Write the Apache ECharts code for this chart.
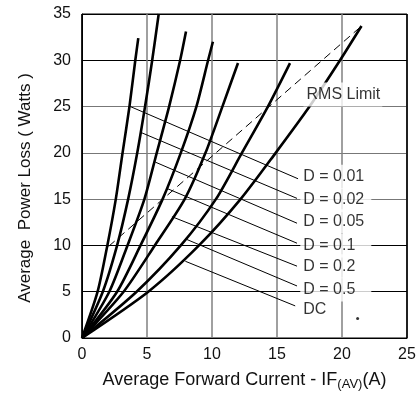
<!DOCTYPE html>
<html><head><meta charset="utf-8">
<script src="https://cdn.jsdelivr.net/npm/echarts@6/dist/echarts.min.js"></script>
<style>html,body{margin:0;padding:0;background:#fff}#c{width:419px;height:396px}</style>
</head><body><div id="c"></div>
<script>
// ---- data ----
const curveNames = ['D = 0.01', 'D = 0.02', 'D = 0.05', 'D = 0.1', 'D = 0.2', 'D = 0.5', 'DC'];
const curveD001 = [[0,0],[1.2,5],[1.95,10],[2.6,15],[3.12,20],[3.65,25],[4.1,30],[4.33,32.4]];
const curveD002 = [[0,0],[1.6,5],[2.7,10],[3.55,15],[4.25,20],[4.85,25],[5.4,30],[5.9,35]];
const curveD005 = [[0,0],[2.1,5],[3.5,10],[4.8,15],[5.75,20],[6.7,25],[7.55,30],[8.0,33.1]];
const curveD01  = [[0,0],[2.7,5],[4.5,10],[6.2,15],[7.6,20],[8.8,25],[9.7,30],[10.07,32]];
const curveD02  = [[0,0],[3.2,5],[5.6,10],[7.9,15],[9.5,20],[10.8,25],[12.0,29.7]];
const curveD05  = [[0,0],[4.2,5],[7.6,10],[10.3,15],[12.3,20],[14.3,25],[16.0,29.7]];
const curveDC   = [[0,0],[5.1,5],[9.0,10],[12.2,15],[14.9,20],[17.5,25],[19.85,30],[21.5,33.7]];
const curves = [curveD001, curveD002, curveD005, curveD01, curveD02, curveD05, curveDC];

const rmsLimit = [[2.05,9.9],[21.5,33.7]];
const rmsLabel = [[17.0, 26.3, 'RMS Limit']];

const leaderStart = [[3.72,25.0],[4.54,22.2],[5.64,19.0],[6.54,16.15],[6.92,13.1],[7.95,10.71],[7.95,8.29]];
const leaderEnd   = [[16.62,17.2],[16.54,15.08],[16.54,12.4],[16.54,10.24],[16.54,7.76],[16.54,5.62],[16.4,3.47]];
const labelX = 16.6;
const labelY = [17.43, 14.9, 12.6, 10.0, 7.75, 5.25, 3.1];
const strayDot = [[21.2, 2.1]];

const xTicks = [0, 5, 10, 15, 20, 25];
const yTicks = [0, 5, 10, 15, 20, 25, 30, 35];

// ---- chart ----
const FONT = 'Liberation Sans, Arial, sans-serif';
const chart = echarts.init(document.getElementById('c'), null, {renderer: 'canvas'});

const series = [];
curves.forEach((c, i) => {
  series.push({
    type: 'line', name: curveNames[i], data: c, showSymbol: false, symbol: 'none',
    smooth: 0.25, z: 3,
    lineStyle: {color: '#000', width: 2.6}, silent: true, animation: false
  });
});
series.push({
  type: 'line', name: 'RMS Limit', data: rmsLimit, symbol: 'none', z: 2,
  lineStyle: {color: '#000', width: 1, type: [8, 5]}, animation: false
});
leaderStart.forEach((s, i) => {
  series.push({
    type: 'line', data: [s, leaderEnd[i]], symbol: 'none', z: 2,
    lineStyle: {color: '#000', width: 1}, animation: false
  });
});
const labelSeries = {
  type: 'scatter', z: 10, symbolSize: 1, itemStyle: {color: 'rgba(0,0,0,0)'},
  data: labelY.map((y, i) => ({value: [labelX, y], name: curveNames[i]})),
  label: {
    show: true, position: 'right', distance: 2, formatter: p => p.name,
    fontFamily: FONT, fontSize: 16, color: '#000', backgroundColor: '#fff',
    padding: [4, 4, 4, 3], lineHeight: 16
  },
  labelLayout: {hideOverlap: false}, animation: false
};
labelSeries.data.forEach((d, i) => { if (i < 6) d.label = {width: 64}; });
series.push(labelSeries);
series.push({
  type: 'scatter', z: 10, symbolSize: 1, itemStyle: {color: 'rgba(0,0,0,0)'},
  data: rmsLabel.map(r => ({value: [r[0], r[1]], name: r[2]})),
  label: {
    show: true, position: 'right', distance: 0, formatter: p => p.name,
    fontFamily: FONT, fontSize: 16, color: '#000', backgroundColor: '#fff',
    padding: [4, 2, 4, 3], lineHeight: 16
  }, animation: false
});
series.push({
  type: 'scatter', z: 10, symbolSize: 3, itemStyle: {color: '#000'},
  data: strayDot, animation: false
});

chart.setOption({
  backgroundColor: '#fff',
  animation: false,
  grid: {left: 82, right: 12, top: 14, bottom: 55, show: true, borderColor: '#000', borderWidth: 1},
  xAxis: {
    type: 'value', min: xTicks[0], max: xTicks[xTicks.length - 1], interval: 5,
    axisLine: {show: true, lineStyle: {color: '#000', width: 1}},
    axisTick: {show: false},
    axisLabel: {fontFamily: FONT, fontSize: 16, color: '#111', margin: 9},
    splitLine: {show: true, lineStyle: {color: ['#000', '#808080', '#808080', '#808080', '#808080', '#000'], width: 1.5}},
    name: 'Average Forward Current - I{s|F}{sub|(AV)}{s|(A)}',
    nameLocation: 'middle', nameGap: 32,
    nameTextStyle: {
      fontFamily: FONT, fontSize: 18, color: '#111', align: 'center',
      rich: {s: {fontFamily: FONT, fontSize: 18, color: '#111'},
             sub: {fontFamily: FONT, fontSize: 13, color: '#111', verticalAlign: 'bottom', padding: [8, 0, 0, 0]}}
    }
  },
  yAxis: {
    type: 'value', min: yTicks[0], max: yTicks[yTicks.length - 1], interval: 5,
    axisLine: {show: true, lineStyle: {color: '#000', width: 1}},
    axisTick: {show: false},
    axisLabel: {fontFamily: FONT, fontSize: 16, color: '#111', margin: 11},
    splitLine: {show: true, lineStyle: {color: ['#000', '#000', '#000', '#777', '#777', '#777', '#000', '#000'], width: 1.2}},
    name: 'Average  Power Loss ( Watts )',
    nameLocation: 'middle', nameGap: 48, nameRotate: 90,
    nameTextStyle: {fontFamily: FONT, fontSize: 17, color: '#111', padding: [0, 24, 0, 0]}
  },
  series: series
});
</script></body></html>
